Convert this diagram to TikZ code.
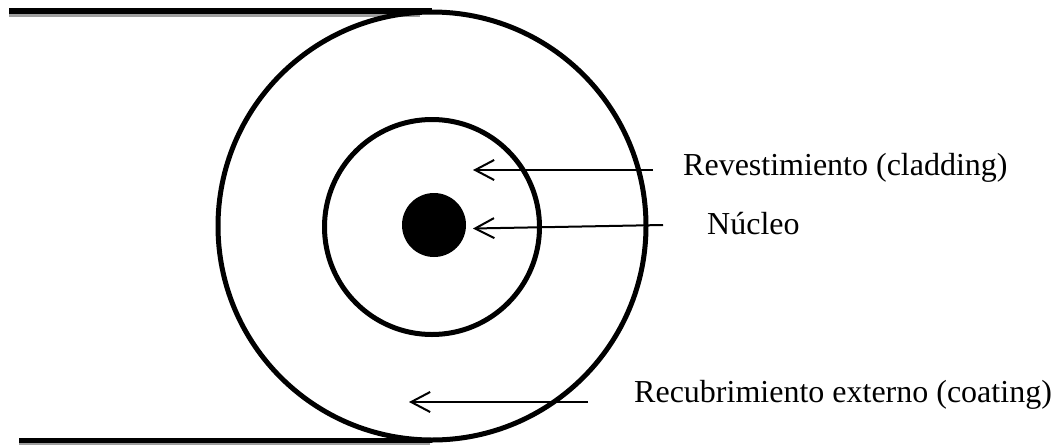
\documentclass[tikz,border=0pt]{standalone}
\usepackage{fontspec}
\setmainfont{Liberation Serif}
\usetikzlibrary{arrows.meta}
\begin{document}
\begin{tikzpicture}[x=1pt,y=-1pt,
  ring/.style={circle,draw=black,line width=5pt,inner sep=0pt,outer sep=0pt},
  lbl/.style={anchor=base west,inner sep=0pt,font=\fontsize{32}{38}\selectfont},
  ptr/.style={line width=2pt,-{Straight Barb[length=19pt,width=20pt]}},
  shade/.style={fill=black!38,draw=none}]
\useasboundingbox (0,0) rectangle (1054,445);
% jacket edges
\fill[shade] (9,13) rectangle (420,17);
\draw[line width=5.5pt] (9,11) -- (432,11);
\fill[shade] (19,441) rectangle (430,445);
\draw[line width=5pt] (19,440) -- (432,440);
% fibre rings
\node[ring,minimum size=428pt] (coating) at (432,226) {};
\node[ring,minimum size=215pt] (cladding) at (432,227) {};
\node[circle,fill=black,inner sep=0pt,minimum size=64pt] (core) at (434,225) {};
% labels
\node[lbl] (rev) at (683,175) {Revestimiento (cladding)};
\node[lbl] (nuc) at (707,234) {Núcleo};
\node[lbl] (rec) at (634,402) {Recubrimiento externo (coating)};
% arrow ends
\coordinate (revS) at (653,170);
\coordinate (revT) at (473,170);
\coordinate (nucS) at (663,225);
\coordinate (nucT) at (473,228.5);
\coordinate (recS) at (588,402);
\coordinate (recT) at (409,402);
\draw[ptr] (revS) -- (revT);
\draw[ptr] (nucS) -- (nucT);
\draw[ptr] (recS) -- (recT);
\end{tikzpicture}
\end{document}
